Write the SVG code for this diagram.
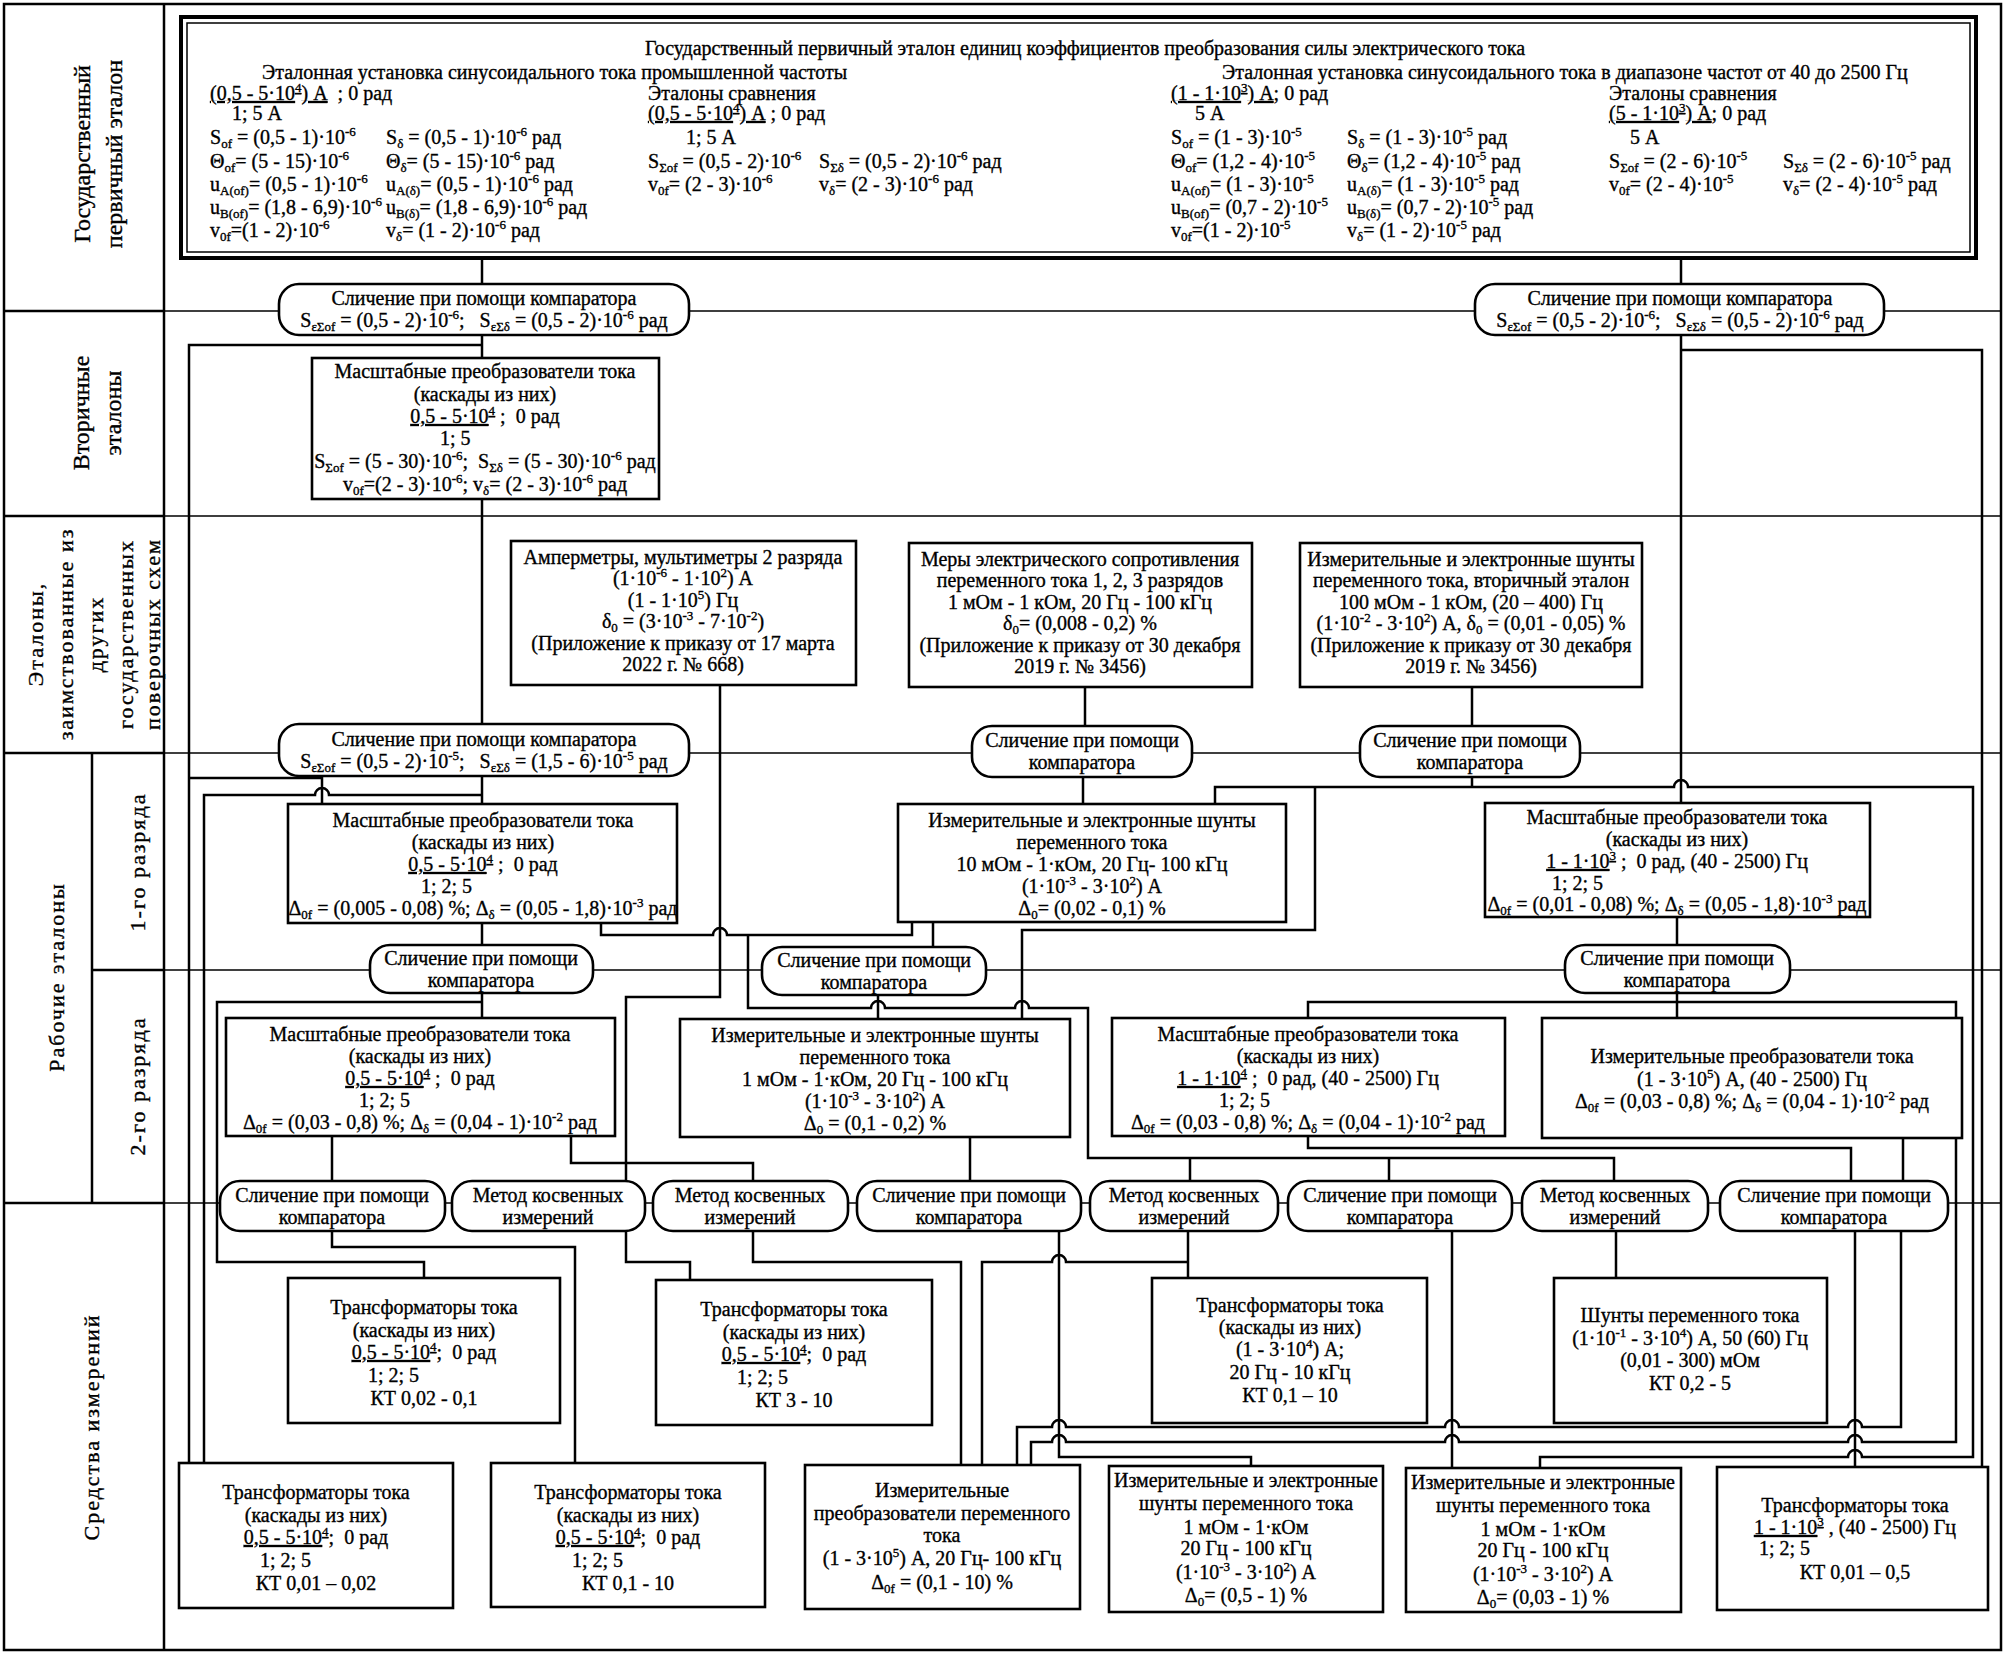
<svg xmlns="http://www.w3.org/2000/svg" width="2007" height="1654" viewBox="0 0 2007 1654">
<style>
text{font-family:"Liberation Serif","Times New Roman",serif;font-size:20px;fill:#000;stroke:#000;stroke-width:0.35px}
.c{text-anchor:middle}
.p{font-size:13px;baseline-shift:8px}
.b{font-size:13px;baseline-shift:-4px}
.u{text-decoration:underline}
.bx{fill:#fff;stroke:#000;stroke-width:2.6}
.pl{fill:#fff;stroke:#000;stroke-width:2.6}
.w{fill:none;stroke:#000;stroke-width:2.5}
.dv{fill:none;stroke:#000;stroke-width:1.3}
.dk{fill:none;stroke:#000;stroke-width:2.5}
.lb{font-size:24px}
.ls{font-size:22px;letter-spacing:2px}
</style>
<rect x="0" y="0" width="2007" height="1654" fill="#fff"/>
<g id="grid">
<rect x="4" y="4" width="1997" height="1646" fill="none" stroke="#000" stroke-width="2.5"/>
<path class="dk" d="M164 4V1650M92 753V1203"/>
<path class="dk" d="M4 311H164M4 516H164M4 753H164M92 970H164M4 1203H164"/>
<path class="dv" d="M164 311H2001M164 516H2001M164 753H2001M164 970H2001M164 1203H2001"/>
</g>
<g id="labels">
<text class="c lb" transform="translate(90,154) rotate(-90)">Государственный</text>
<text class="c lb" transform="translate(122,154) rotate(-90)">первичный эталон</text>
<text class="c lb" transform="translate(89,413) rotate(-90)">Вторичные</text>
<text class="c lb" transform="translate(121,413) rotate(-90)">эталоны</text>
<text class="c ls" transform="translate(43,634) rotate(-90)">Эталоны,</text>
<text class="c ls" transform="translate(73,634) rotate(-90)">заимствованные из</text>
<text class="c ls" transform="translate(103,634) rotate(-90)">других</text>
<text class="c ls" transform="translate(133,634) rotate(-90)">государственных</text>
<text class="c ls" transform="translate(160,634) rotate(-90)">поверочных схем</text>
<text class="c ls" transform="translate(64,977) rotate(-90)">Рабочие эталоны</text>
<text class="c ls" transform="translate(145,862) rotate(-90)">1-го разряда</text>
<text class="c ls" transform="translate(145,1086) rotate(-90)">2-го разряда</text>
<text class="c ls" transform="translate(99,1427) rotate(-90)">Средства измерений</text>
</g>
<g id="connectors" class="w">
<path d="M482 258V284"/>
<path d="M482 335V358"/>
<path d="M482 345H189V1463"/>
<path d="M482 499V724"/>
<path d="M482 776V804"/>
<path d="M204 1463V795H315A7 7 0 0 1 329 795H482"/>
<path d="M189 778H322V804"/>
<path d="M601 923V935H713A7 7 0 0 1 727 935H912V922"/>
<path d="M748 935V1008H871A7 7 0 0 1 885 1008H1015A7 7 0 0 1 1029 1008H1088V1158H1614V1181"/>
<path d="M1190 1158V1181M1389 1158V1181"/>
<path d="M720 685V997H626V1181"/>
<path d="M626 1231V1262H690V1280"/>
<path d="M1085 687V726M1083 777V804"/>
<path d="M1472 687V726M1472 777V787"/>
<path d="M1215 804V787H1674A7 7 0 0 1 1688 787H1973V1457H1862A7 7 0 0 0 1848 1457H1540V1468"/>
<path d="M1315 787V930H1022V1019"/>
<path d="M878 995V1019M933 922V947"/>
<path d="M1681 258V284M1681 335V803"/>
<path d="M1681 350H1982V1467"/>
<path d="M1677 917V945M1677 993V1018"/>
<path d="M1308 1018V1002H1956V1442H1862A7 7 0 0 0 1848 1442H1459A7 7 0 0 0 1445 1442H1066A7 7 0 0 0 1052 1442H1031V1465"/>
<path d="M1901 1231V1427H1862A7 7 0 0 0 1848 1427H1459A7 7 0 0 0 1445 1427H1066A7 7 0 0 0 1052 1427H1017V1465"/>
<path d="M1855 1231V1467M1903 1138V1181"/>
<path d="M1308 1136V1148H1851V1181"/>
<path d="M1616 1231V1278M1452 1231V1468M1188 1231V1278"/>
<path d="M982 1465V1262H1052A7 7 0 0 1 1066 1262H1188"/>
<path d="M970 1137V1181"/>
<path d="M1059 1231V1457H1251V1466"/>
<path d="M571 1136V1163H753V1181"/>
<path d="M753 1231V1262H961V1465"/>
<path d="M332 1136V1181M332 1231V1247H575V1463"/>
<path d="M482 923V945M482 993V1018"/>
<path d="M482 1002H217V1262H424V1278"/>
</g>
<g id="n-primary">
<rect x="181" y="17" width="1795" height="241" fill="#fff" stroke="#000" stroke-width="4"/>
<rect x="187" y="23" width="1783" height="229" fill="none" stroke="#000" stroke-width="1.5"/>
<text x="1085" y="55" class="c">Государственный первичный эталон единиц коэффициентов преобразования силы электрического тока</text>
<text x="262" y="79">Эталонная установка синусоидального тока промышленной частоты</text>
<text x="1222" y="79">Эталонная установка синусоидального тока в диапазоне частот от 40 до 2500 Гц</text>
<text x="210" y="100"><tspan class="u">(0,5 - 5·10<tspan class="p">4</tspan>) А</tspan>&#160; ; 0 рад</text>
<text x="232" y="120">1; 5 А</text>
<text x="210" y="144">S<tspan class="b">of</tspan> = (0,5 - 1)·10<tspan class="p">-6</tspan></text>
<text x="386" y="144">S<tspan class="b">δ</tspan> = (0,5 - 1)·10<tspan class="p">-6</tspan> рад</text>
<text x="210" y="168">Θ<tspan class="b">of</tspan>= (5 - 15)·10<tspan class="p">-6</tspan></text>
<text x="386" y="168">Θ<tspan class="b">δ</tspan>= (5 - 15)·10<tspan class="p">-6</tspan> рад</text>
<text x="210" y="191">u<tspan class="b">A(of)</tspan>= (0,5 - 1)·10<tspan class="p">-6</tspan></text>
<text x="386" y="191">u<tspan class="b">A(δ)</tspan>= (0,5 - 1)·10<tspan class="p">-6</tspan> рад</text>
<text x="210" y="214">u<tspan class="b">B(of)</tspan>= (1,8 - 6,9)·10<tspan class="p">-6</tspan></text>
<text x="386" y="214">u<tspan class="b">B(δ)</tspan>= (1,8 - 6,9)·10<tspan class="p">-6</tspan> рад</text>
<text x="210" y="237">v<tspan class="b">0f</tspan>=(1 - 2)·10<tspan class="p">-6</tspan></text>
<text x="386" y="237">v<tspan class="b">δ</tspan>= (1 - 2)·10<tspan class="p">-6</tspan> рад</text>
<text x="648" y="100">Эталоны сравнения</text>
<text x="648" y="120"><tspan class="u">(0,5 - 5·10<tspan class="p">4</tspan>) А</tspan> ; 0 рад</text>
<text x="686" y="144">1; 5 А</text>
<text x="648" y="168">S<tspan class="b">Σof</tspan> = (0,5 - 2)·10<tspan class="p">-6</tspan></text>
<text x="819" y="168">S<tspan class="b">Σδ</tspan> = (0,5 - 2)·10<tspan class="p">-6</tspan> рад</text>
<text x="648" y="191">v<tspan class="b">0f</tspan>= (2 - 3)·10<tspan class="p">-6</tspan></text>
<text x="819" y="191">v<tspan class="b">δ</tspan>= (2 - 3)·10<tspan class="p">-6</tspan> рад</text>
<text x="1171" y="100"><tspan class="u">(1 - 1·10<tspan class="p">3</tspan>) А</tspan>; 0 рад</text>
<text x="1195" y="120">5 А</text>
<text x="1171" y="144">S<tspan class="b">of</tspan> = (1 - 3)·10<tspan class="p">-5</tspan></text>
<text x="1347" y="144">S<tspan class="b">δ</tspan> = (1 - 3)·10<tspan class="p">-5</tspan> рад</text>
<text x="1171" y="168">Θ<tspan class="b">of</tspan>= (1,2 - 4)·10<tspan class="p">-5</tspan></text>
<text x="1347" y="168">Θ<tspan class="b">δ</tspan>= (1,2 - 4)·10<tspan class="p">-5</tspan> рад</text>
<text x="1171" y="191">u<tspan class="b">A(of)</tspan>= (1 - 3)·10<tspan class="p">-5</tspan></text>
<text x="1347" y="191">u<tspan class="b">A(δ)</tspan>= (1 - 3)·10<tspan class="p">-5</tspan> рад</text>
<text x="1171" y="214">u<tspan class="b">B(of)</tspan>= (0,7 - 2)·10<tspan class="p">-5</tspan></text>
<text x="1347" y="214">u<tspan class="b">B(δ)</tspan>= (0,7 - 2)·10<tspan class="p">-5</tspan> рад</text>
<text x="1171" y="237">v<tspan class="b">0f</tspan>=(1 - 2)·10<tspan class="p">-5</tspan></text>
<text x="1347" y="237">v<tspan class="b">δ</tspan>= (1 - 2)·10<tspan class="p">-5</tspan> рад</text>
<text x="1609" y="100">Эталоны сравнения</text>
<text x="1609" y="120"><tspan class="u">(5 - 1·10<tspan class="p">3</tspan>) А</tspan>; 0 рад</text>
<text x="1630" y="144">5 А</text>
<text x="1609" y="168">S<tspan class="b">Σof</tspan> = (2 - 6)·10<tspan class="p">-5</tspan></text>
<text x="1783" y="168">S<tspan class="b">Σδ</tspan> = (2 - 6)·10<tspan class="p">-5</tspan> рад</text>
<text x="1609" y="191">v<tspan class="b">0f</tspan>= (2 - 4)·10<tspan class="p">-5</tspan></text>
<text x="1783" y="191">v<tspan class="b">δ</tspan>= (2 - 4)·10<tspan class="p">-5</tspan> рад</text>
</g>
<g id="n-cmpA">
<rect class="pl" x="279" y="284" width="410" height="51" rx="20"/>
<text class="c" x="484" y="305">Сличение при помощи компаратора</text>
<text class="c" x="484" y="327">S<tspan class="b">εΣof</tspan> = (0,5 - 2)·10<tspan class="p">-6</tspan>;&#160;&#160; S<tspan class="b">εΣδ</tspan> = (0,5 - 2)·10<tspan class="p">-6</tspan> рад</text>
</g>
<g id="n-cmpB">
<rect class="pl" x="1475" y="284" width="409" height="51" rx="20"/>
<text class="c" x="1680" y="305">Сличение при помощи компаратора</text>
<text class="c" x="1680" y="327">S<tspan class="b">εΣof</tspan> = (0,5 - 2)·10<tspan class="p">-6</tspan>;&#160;&#160; S<tspan class="b">εΣδ</tspan> = (0,5 - 2)·10<tspan class="p">-6</tspan> рад</text>
</g>
<g id="n-secondary">
<rect class="bx" x="312" y="358" width="347" height="141"/>
<text class="c" x="485" y="378">Масштабные преобразователи тока</text>
<text class="c" x="485" y="401">(каскады из них)</text>
<text class="c" x="485" y="423"><tspan class="u">0,5 - 5·10<tspan class="p">4</tspan></tspan> ;&#160; 0 рад</text>
<text x="440" y="445">1; 5</text>
<text class="c" x="485" y="468">S<tspan class="b">Σof</tspan> = (5 - 30)·10<tspan class="p">-6</tspan>;&#160; S<tspan class="b">Σδ</tspan> = (5 - 30)·10<tspan class="p">-6</tspan> рад</text>
<text class="c" x="485" y="491">v<tspan class="b">0f</tspan>=(2 - 3)·10<tspan class="p">-6</tspan>; v<tspan class="b">δ</tspan>= (2 - 3)·10<tspan class="p">-6</tspan> рад</text>
</g>
<g id="n-ammeters">
<rect class="bx" x="511" y="541" width="345" height="144"/>
<text class="c" x="683" y="564">Амперметры, мультиметры 2 разряда</text>
<text class="c" x="683" y="585">(1·10<tspan class="p">-6</tspan> - 1·10<tspan class="p">2</tspan>) А</text>
<text class="c" x="683" y="607">(1 - 1·10<tspan class="p">5</tspan>) Гц</text>
<text class="c" x="683" y="628">δ<tspan class="b">0</tspan> = (3·10<tspan class="p">-3</tspan> - 7·10<tspan class="p">-2</tspan>)</text>
<text class="c" x="683" y="650">(Приложение к приказу от 17 марта</text>
<text class="c" x="683" y="671">2022 г. № 668)</text>
</g>
<g id="n-resist">
<rect class="bx" x="909" y="543" width="343" height="144"/>
<text class="c" x="1080" y="566">Меры электрического сопротивления</text>
<text class="c" x="1080" y="587">переменного тока 1, 2, 3 разрядов</text>
<text class="c" x="1080" y="609">1 мОм - 1 кОм, 20 Гц - 100 кГц</text>
<text class="c" x="1080" y="630">δ<tspan class="b">0</tspan>= (0,008 - 0,2) %</text>
<text class="c" x="1080" y="652">(Приложение к приказу от 30 декабря</text>
<text class="c" x="1080" y="673">2019 г. № 3456)</text>
</g>
<g id="n-shunt2">
<rect class="bx" x="1300" y="543" width="342" height="144"/>
<text class="c" x="1471" y="566">Измерительные и электронные шунты</text>
<text class="c" x="1471" y="587">переменного тока, вторичный эталон</text>
<text class="c" x="1471" y="609">100 мОм - 1 кОм, (20 – 400) Гц</text>
<text class="c" x="1471" y="630">(1·10<tspan class="p">-2</tspan> - 3·10<tspan class="p">2</tspan>) А, δ<tspan class="b">0</tspan> = (0,01 - 0,05) %</text>
<text class="c" x="1471" y="652">(Приложение к приказу от 30 декабря</text>
<text class="c" x="1471" y="673">2019 г. № 3456)</text>
</g>
<g id="n-cmpC">
<rect class="pl" x="279" y="724" width="410" height="52" rx="20"/>
<text class="c" x="484" y="746">Сличение при помощи компаратора</text>
<text class="c" x="484" y="768">S<tspan class="b">εΣof</tspan> = (0,5 - 2)·10<tspan class="p">-5</tspan>;&#160;&#160; S<tspan class="b">εΣδ</tspan> = (1,5 - 6)·10<tspan class="p">-5</tspan> рад</text>
</g>
<g id="n-cmpD">
<rect class="pl" x="972" y="726" width="220" height="51" rx="20"/>
<text class="c" x="1082" y="747">Сличение при помощи</text>
<text class="c" x="1082" y="769">компаратора</text>
</g>
<g id="n-cmpE">
<rect class="pl" x="1360" y="726" width="220" height="51" rx="20"/>
<text class="c" x="1470" y="747">Сличение при помощи</text>
<text class="c" x="1470" y="769">компаратора</text>
</g>
<g id="n-m1">
<rect class="bx" x="288" y="804" width="389" height="119"/>
<text class="c" x="483" y="827">Масштабные преобразователи тока</text>
<text class="c" x="483" y="849">(каскады из них)</text>
<text class="c" x="483" y="871"><tspan class="u">0,5 - 5·10<tspan class="p">4</tspan></tspan> ;&#160; 0 рад</text>
<text x="421" y="893">1; 2; 5</text>
<text class="c" x="483" y="915">Δ<tspan class="b">0f</tspan> = (0,005 - 0,08) %; Δ<tspan class="b">δ</tspan> = (0,05 - 1,8)·10<tspan class="p">-3</tspan> рад</text>
</g>
<g id="n-i1">
<rect class="bx" x="898" y="804" width="388" height="118"/>
<text class="c" x="1092" y="827">Измерительные и электронные шунты</text>
<text class="c" x="1092" y="849">переменного тока</text>
<text class="c" x="1092" y="871">10 мОм - 1·кОм, 20 Гц- 100 кГц</text>
<text class="c" x="1092" y="893">(1·10<tspan class="p">-3</tspan> - 3·10<tspan class="p">2</tspan>) А</text>
<text class="c" x="1092" y="915">Δ<tspan class="b">0</tspan>= (0,02 - 0,1) %</text>
</g>
<g id="n-m1r">
<rect class="bx" x="1485" y="803" width="385" height="114"/>
<text class="c" x="1677" y="824">Масштабные преобразователи тока</text>
<text class="c" x="1677" y="846">(каскады из них)</text>
<text class="c" x="1677" y="868"><tspan class="u">1 - 1·10<tspan class="p">3</tspan></tspan> ;&#160; 0 рад, (40 - 2500) Гц</text>
<text x="1552" y="890">1; 2; 5</text>
<text class="c" x="1677" y="911">Δ<tspan class="b">0f</tspan> = (0,01 - 0,08) %; Δ<tspan class="b">δ</tspan> = (0,05 - 1,8)·10<tspan class="p">-3</tspan> рад</text>
</g>
<g id="n-cmpF">
<rect class="pl" x="370" y="945" width="223" height="48" rx="20"/>
<text class="c" x="481" y="965">Сличение при помощи</text>
<text class="c" x="481" y="987">компаратора</text>
</g>
<g id="n-cmpG">
<rect class="pl" x="762" y="947" width="224" height="48" rx="20"/>
<text class="c" x="874" y="967">Сличение при помощи</text>
<text class="c" x="874" y="989">компаратора</text>
</g>
<g id="n-cmpH">
<rect class="pl" x="1565" y="945" width="225" height="48" rx="20"/>
<text class="c" x="1677" y="965">Сличение при помощи</text>
<text class="c" x="1677" y="987">компаратора</text>
</g>
<g id="n-m2">
<rect class="bx" x="226" y="1018" width="389" height="118"/>
<text class="c" x="420" y="1041">Масштабные преобразователи тока</text>
<text class="c" x="420" y="1063">(каскады из них)</text>
<text class="c" x="420" y="1085"><tspan class="u">0,5 - 5·10<tspan class="p">4</tspan></tspan> ;&#160; 0 рад</text>
<text x="359" y="1107">1; 2; 5</text>
<text class="c" x="420" y="1129">Δ<tspan class="b">0f</tspan> = (0,03 - 0,8) %; Δ<tspan class="b">δ</tspan> = (0,04 - 1)·10<tspan class="p">-2</tspan> рад</text>
</g>
<g id="n-i2">
<rect class="bx" x="680" y="1019" width="390" height="118"/>
<text class="c" x="875" y="1042">Измерительные и электронные шунты</text>
<text class="c" x="875" y="1064">переменного тока</text>
<text class="c" x="875" y="1086">1 мОм - 1·кОм, 20 Гц - 100 кГц</text>
<text class="c" x="875" y="1108">(1·10<tspan class="p">-3</tspan> - 3·10<tspan class="p">2</tspan>) А</text>
<text class="c" x="875" y="1130">Δ<tspan class="b">0</tspan> = (0,1 - 0,2) %</text>
</g>
<g id="n-m2r">
<rect class="bx" x="1112" y="1018" width="393" height="118"/>
<text class="c" x="1308" y="1041">Масштабные преобразователи тока</text>
<text class="c" x="1308" y="1063">(каскады из них)</text>
<text class="c" x="1308" y="1085"><tspan class="u">1 - 1·10<tspan class="p">4</tspan></tspan> ;&#160; 0 рад, (40 - 2500) Гц</text>
<text x="1219" y="1107">1; 2; 5</text>
<text class="c" x="1308" y="1129">Δ<tspan class="b">0f</tspan> = (0,03 - 0,8) %; Δ<tspan class="b">δ</tspan> = (0,04 - 1)·10<tspan class="p">-2</tspan> рад</text>
</g>
<g id="n-p2">
<rect class="bx" x="1542" y="1018" width="420" height="120"/>
<text class="c" x="1752" y="1063">Измерительные преобразователи тока</text>
<text class="c" x="1752" y="1086">(1 - 3·10<tspan class="p">5</tspan>) А, (40 - 2500) Гц</text>
<text class="c" x="1752" y="1108">Δ<tspan class="b">0f</tspan> = (0,03 - 0,8) %; Δ<tspan class="b">δ</tspan> = (0,04 - 1)·10<tspan class="p">-2</tspan> рад</text>
</g>
<g id="n-cmpJ">
<rect class="pl" x="220" y="1181" width="225" height="50" rx="20"/>
<text class="c" x="332" y="1202">Сличение при помощи</text>
<text class="c" x="332" y="1224">компаратора</text>
</g>
<g id="n-indK">
<rect class="pl" x="452" y="1181" width="193" height="50" rx="20"/>
<text class="c" x="548" y="1202">Метод косвенных</text>
<text class="c" x="548" y="1224">измерений</text>
</g>
<g id="n-indL">
<rect class="pl" x="653" y="1181" width="195" height="50" rx="20"/>
<text class="c" x="750" y="1202">Метод косвенных</text>
<text class="c" x="750" y="1224">измерений</text>
</g>
<g id="n-cmpM">
<rect class="pl" x="857" y="1181" width="224" height="50" rx="20"/>
<text class="c" x="969" y="1202">Сличение при помощи</text>
<text class="c" x="969" y="1224">компаратора</text>
</g>
<g id="n-indN">
<rect class="pl" x="1090" y="1181" width="188" height="50" rx="20"/>
<text class="c" x="1184" y="1202">Метод косвенных</text>
<text class="c" x="1184" y="1224">измерений</text>
</g>
<g id="n-cmpO">
<rect class="pl" x="1288" y="1181" width="224" height="50" rx="20"/>
<text class="c" x="1400" y="1202">Сличение при помощи</text>
<text class="c" x="1400" y="1224">компаратора</text>
</g>
<g id="n-indP">
<rect class="pl" x="1522" y="1181" width="186" height="50" rx="20"/>
<text class="c" x="1615" y="1202">Метод косвенных</text>
<text class="c" x="1615" y="1224">измерений</text>
</g>
<g id="n-cmpQ">
<rect class="pl" x="1720" y="1181" width="228" height="50" rx="20"/>
<text class="c" x="1834" y="1202">Сличение при помощи</text>
<text class="c" x="1834" y="1224">компаратора</text>
</g>
<g id="n-b1">
<rect class="bx" x="288" y="1278" width="272" height="145"/>
<text class="c" x="424" y="1314">Трансформаторы тока</text>
<text class="c" x="424" y="1337">(каскады из них)</text>
<text class="c" x="424" y="1359"><tspan class="u">0,5 - 5·10<tspan class="p">4</tspan></tspan>;&#160; 0 рад</text>
<text x="368" y="1382">1; 2; 5</text>
<text class="c" x="424" y="1405">КТ 0,02 - 0,1</text>
</g>
<g id="n-b2">
<rect class="bx" x="656" y="1280" width="276" height="145"/>
<text class="c" x="794" y="1316">Трансформаторы тока</text>
<text class="c" x="794" y="1339">(каскады из них)</text>
<text class="c" x="794" y="1361"><tspan class="u">0,5 - 5·10<tspan class="p">4</tspan></tspan>;&#160; 0 рад</text>
<text x="737" y="1384">1; 2; 5</text>
<text class="c" x="794" y="1407">КТ 3 - 10</text>
</g>
<g id="n-b3">
<rect class="bx" x="1152" y="1278" width="275" height="145"/>
<text class="c" x="1290" y="1312">Трансформаторы тока</text>
<text class="c" x="1290" y="1334">(каскады из них)</text>
<text class="c" x="1290" y="1356">(1 - 3·10<tspan class="p">4</tspan>) А;</text>
<text class="c" x="1290" y="1379">20 Гц - 10 кГц</text>
<text class="c" x="1290" y="1402">КТ 0,1 – 10</text>
</g>
<g id="n-b4">
<rect class="bx" x="1554" y="1278" width="273" height="145"/>
<text class="c" x="1690" y="1322">Шунты переменного тока</text>
<text class="c" x="1690" y="1345">(1·10<tspan class="p">-1</tspan> - 3·10<tspan class="p">4</tspan>) А, 50 (60) Гц</text>
<text class="c" x="1690" y="1367">(0,01 - 300) мОм</text>
<text class="c" x="1690" y="1390">КТ 0,2 - 5</text>
</g>
<g id="n-b5">
<rect class="bx" x="179" y="1463" width="274" height="145"/>
<text class="c" x="316" y="1499">Трансформаторы тока</text>
<text class="c" x="316" y="1522">(каскады из них)</text>
<text class="c" x="316" y="1544"><tspan class="u">0,5 - 5·10<tspan class="p">4</tspan></tspan>;&#160; 0 рад</text>
<text x="260" y="1567">1; 2; 5</text>
<text class="c" x="316" y="1590">КТ 0,01 – 0,02</text>
</g>
<g id="n-b6">
<rect class="bx" x="491" y="1463" width="274" height="144"/>
<text class="c" x="628" y="1499">Трансформаторы тока</text>
<text class="c" x="628" y="1522">(каскады из них)</text>
<text class="c" x="628" y="1544"><tspan class="u">0,5 - 5·10<tspan class="p">4</tspan></tspan>;&#160; 0 рад</text>
<text x="572" y="1567">1; 2; 5</text>
<text class="c" x="628" y="1590">КТ 0,1 - 10</text>
</g>
<g id="n-b7">
<rect class="bx" x="805" y="1465" width="275" height="144"/>
<text class="c" x="942" y="1497">Измерительные</text>
<text class="c" x="942" y="1520">преобразователи переменного</text>
<text class="c" x="942" y="1542">тока</text>
<text class="c" x="942" y="1565">(1 - 3·10<tspan class="p">5</tspan>) А, 20 Гц- 100 кГц</text>
<text class="c" x="942" y="1589">Δ<tspan class="b">0f</tspan> = (0,1 - 10) %</text>
</g>
<g id="n-b8">
<rect class="bx" x="1109" y="1466" width="274" height="146"/>
<text class="c" x="1246" y="1487">Измерительные и электронные</text>
<text class="c" x="1246" y="1510">шунты переменного тока</text>
<text class="c" x="1246" y="1534">1 мОм - 1·кОм</text>
<text class="c" x="1246" y="1555">20 Гц - 100 кГц</text>
<text class="c" x="1246" y="1579">(1·10<tspan class="p">-3</tspan> - 3·10<tspan class="p">2</tspan>) А</text>
<text class="c" x="1246" y="1602">Δ<tspan class="b">0</tspan>= (0,5 - 1) %</text>
</g>
<g id="n-b9">
<rect class="bx" x="1406" y="1468" width="275" height="144"/>
<text class="c" x="1543" y="1489">Измерительные и электронные</text>
<text class="c" x="1543" y="1512">шунты переменного тока</text>
<text class="c" x="1543" y="1536">1 мОм - 1·кОм</text>
<text class="c" x="1543" y="1557">20 Гц - 100 кГц</text>
<text class="c" x="1543" y="1581">(1·10<tspan class="p">-3</tspan> - 3·10<tspan class="p">2</tspan>) А</text>
<text class="c" x="1543" y="1604">Δ<tspan class="b">0</tspan>= (0,03 - 1) %</text>
</g>
<g id="n-b10">
<rect class="bx" x="1717" y="1467" width="271" height="143"/>
<text class="c" x="1855" y="1512">Трансформаторы тока</text>
<text class="c" x="1855" y="1534"><tspan class="u">1 - 1·10<tspan class="p">3</tspan></tspan> , (40 - 2500) Гц</text>
<text x="1759" y="1555">1; 2; 5</text>
<text class="c" x="1855" y="1579">КТ 0,01 – 0,5</text>
</g>
</svg>
